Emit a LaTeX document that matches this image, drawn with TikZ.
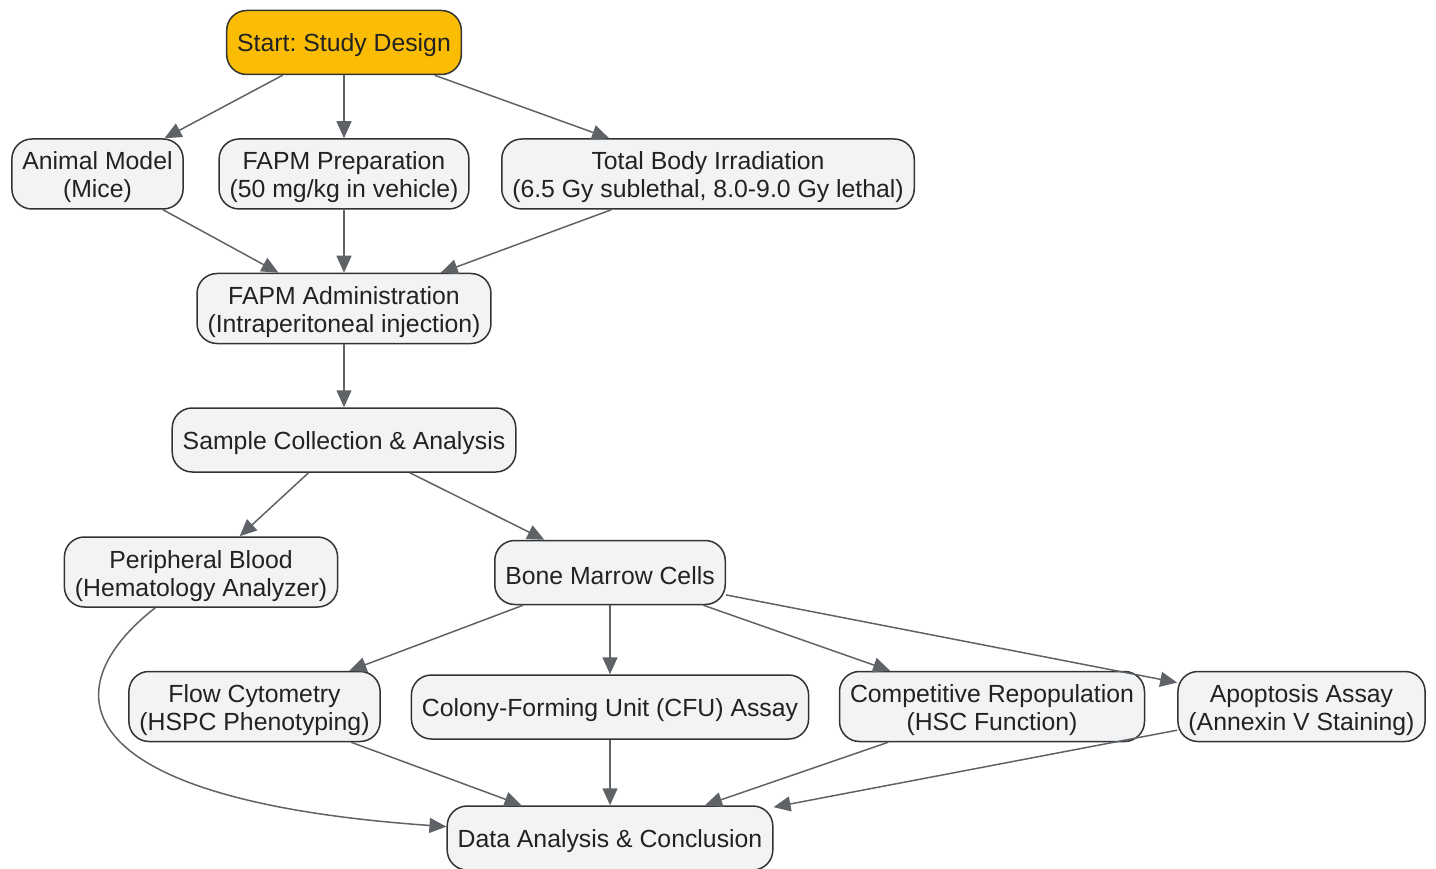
\documentclass[tikz,border=0pt]{standalone}
\usepackage{fontspec}
\setmainfont{Liberation Sans}
\frenchspacing
\usetikzlibrary{arrows.meta}
\definecolor{boxfill}{HTML}{F1F3F4}
\definecolor{boxline}{HTML}{333333}
\definecolor{startfill}{HTML}{FBBC04}
\definecolor{linkgray}{HTML}{5F6368}
\definecolor{txt}{HTML}{222222}

\begin{document}
\begin{tikzpicture}[x=1pt,y=-1pt,
	box/.style={draw=boxline, line width=1.5pt, fill=boxfill, rounded corners=20pt,
		align=center, inner xsep=10.5pt, inner ysep=6.5pt, minimum height=64pt,
		font=\fontsize{24.8}{28}\selectfont, text=txt,
		execute at begin node={\rule{0pt}{24pt}}},
	pair/.style={box, minimum height=70pt, inner ysep=6pt,
		text height=53pt, text depth=5pt},
	startbox/.style={box, fill=startfill},
	link/.style={->, color=linkgray, line width=1.5pt},
	every edge/.append style={color=linkgray},
	>={Triangle[length=17pt,width=15pt]}]
	\useasboundingbox (0,0) rectangle (1436,869);
	% steps
	\node[startbox] (start)  at (344,42.5)   {Start: Study Design};
	\node[pair]     (animal) at (97.5,174)   {Animal Model\\(Mice)};
	\node[pair]     (prep)   at (344,174)    {FAPM Preparation\\(50 mg/kg in vehicle)};
	\node[pair]     (tbi)    at (708,174)    {Total Body Irradiation\\(6.5 Gy sublethal, 8.0-9.0 Gy lethal)};
	\node[pair]     (admin)  at (344,308.5)  {FAPM Administration\\(Intraperitoneal injection)};
	\node[box]      (sample) at (344,440)    {Sample Collection \& Analysis};
	\node[pair]     (blood)  at (201,572)    {Peripheral Blood\\(Hematology Analyzer)};
	\node[box]      (marrow) at (610,572.5)  {Bone Marrow Cells};
	\node[pair]     (flow)   at (254.5,706.5){Flow Cytometry\\(HSPC Phenotyping)};
	\node[box]      (cfu)    at (610,707)    {Colony-Forming Unit (CFU) Assay};
	\node[pair]     (repop)  at (992,706.5)  {Competitive Repopulation\\(HSC Function)};
	\node[pair]     (apop)   at (1301.5,706.5){Apoptosis Assay\\(Annexin V Staining)};
	\node[box]      (result) at (610,838)    {Data Analysis \& Conclusion};
	% arrows
	\path[link]
	(start)  edge (animal)
	         edge (prep)
	         edge (tbi)
	(animal) edge (admin)
	(prep)   edge (admin)
	(tbi)    edge (admin)
	(admin)  edge (sample)
	(sample) edge (blood)
	         edge (marrow)
	(marrow) edge (flow)
	         edge (cfu)
	         edge (repop)
	         edge (apop)
	(flow)   edge (result)
	(cfu)    edge (result)
	(repop)  edge (result)
	(apop)   edge (result);
	\draw[link] (blood) .. controls (50,690) and (65,800) .. (result);
\end{tikzpicture}
\end{document}
